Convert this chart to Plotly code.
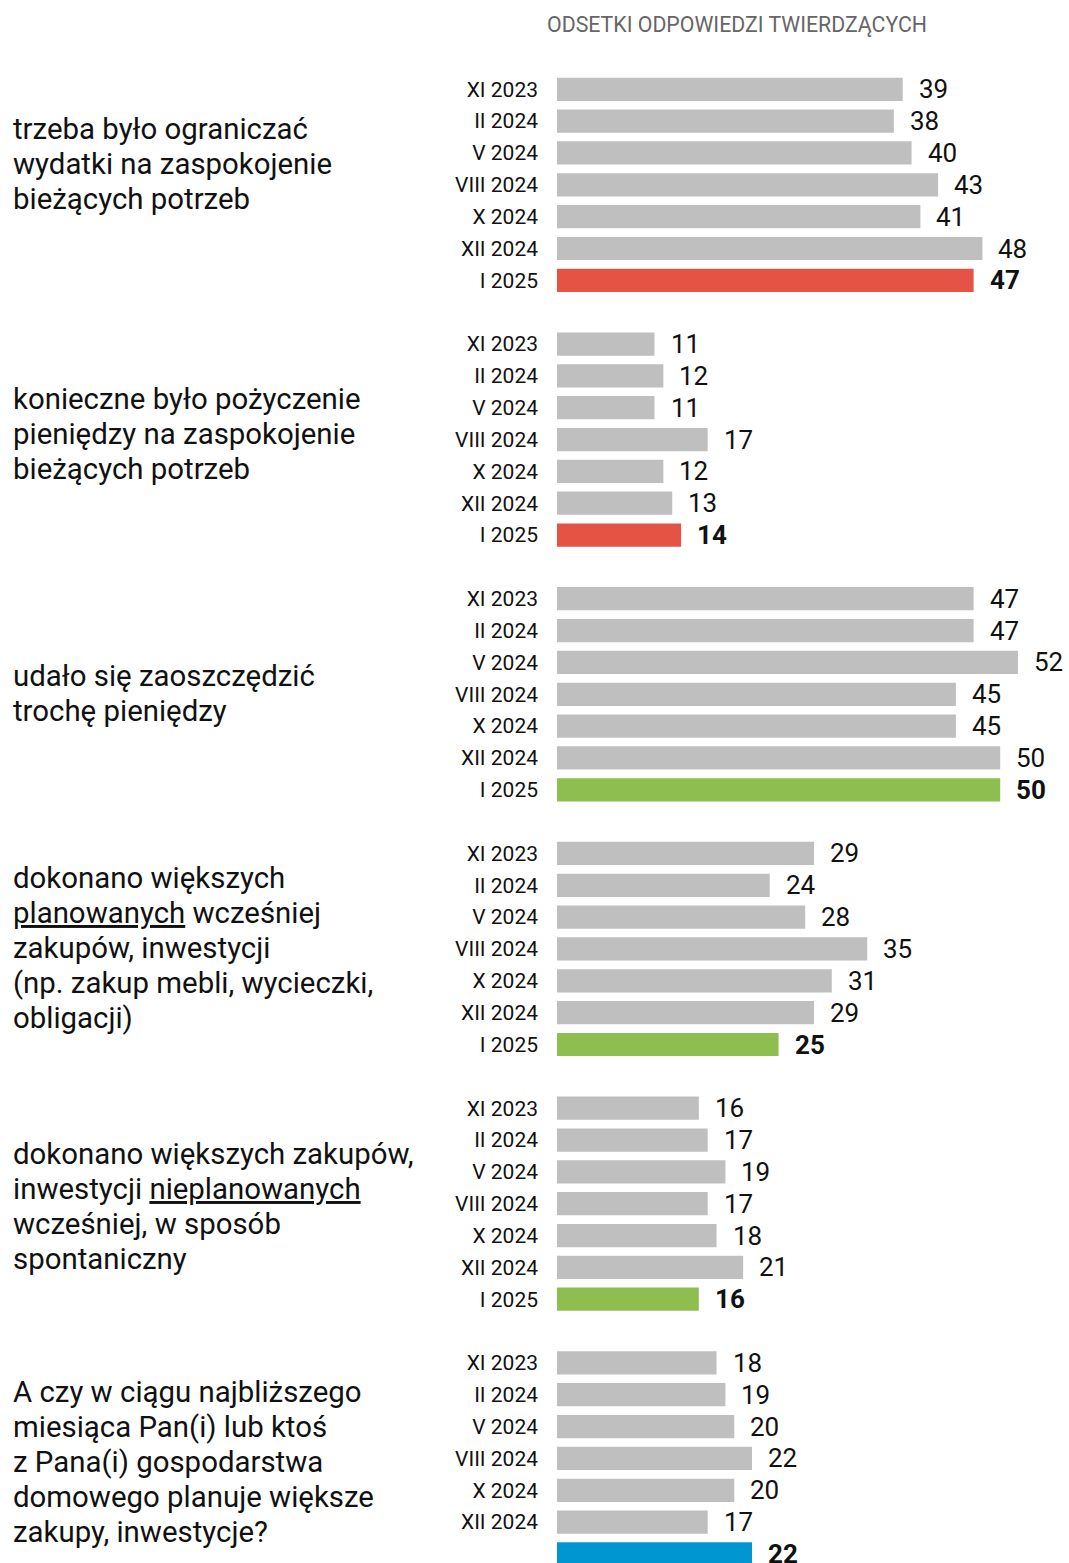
import plotly.graph_objects as go

periods = ["XI 2023", "II 2024", "V 2024", "VIII 2024", "X 2024", "XII 2024", "I 2025"]

questions = [
    ["trzeba było ograniczać", "wydatki na zaspokojenie", "bieżących potrzeb"],
    ["konieczne było pożyczenie", "pieniędzy na zaspokojenie", "bieżących potrzeb"],
    ["udało się zaoszczędzić", "trochę pieniędzy"],
    ["dokonano większych", "<u>planowanych</u> wcześniej", "zakupów, inwestycji",
     "(np. zakup mebli, wycieczki,", "obligacji)"],
    ["dokonano większych zakupów,", "inwestycji <u>nieplanowanych</u>",
     "wcześniej, w sposób", "spontaniczny"],
    ["A czy w ciągu najbliższego", "miesiąca Pan(i) lub ktoś", "z Pana(i) gospodarstwa",
     "domowego planuje większe", "zakupy, inwestycje?"],
]

values_g1 = [39, 38, 40, 43, 41, 48, 47]
values_g2 = [11, 12, 11, 17, 12, 13, 14]
values_g3 = [47, 47, 52, 45, 45, 50, 50]
values_g4 = [29, 24, 28, 35, 31, 29, 25]
values_g5 = [16, 17, 19, 17, 18, 21, 16]
values_g6 = [18, 19, 20, 22, 20, 17, 22]
groups = [values_g1, values_g2, values_g3, values_g4, values_g5, values_g6]

highlight_colors = ["#e55344", "#e55344", "#8fbe50", "#8fbe50", "#8fbe50", "#0096d2"]
gray = "#bfbfbf"
title_text = "ODSETKI ODPOWIEDZI TWIERDZĄCYCH"

# label block centres (in row units, relative to group start)
label_offsets = [2.35, 2.83, 2.98, 2.97, 3.10, 3.11]

FONT = "Roboto"
ROWS_PER_GROUP = len(periods) + 1
ROW_PX = 31.84
LINE_PX = 35.0

xs, ys, colors, tickvals, ticktext = [], [], [], [], []
annotations = []
for g, vals in enumerate(groups):
    for i, v in enumerate(vals):
        r = g * ROWS_PER_GROUP + i
        xs.append(v)
        ys.append(r)
        last = i == len(vals) - 1
        colors.append(highlight_colors[g] if last else gray)
        tickvals.append(r)
        ticktext.append(periods[i])
        annotations.append(dict(
            x=v, y=r, xref="x", yref="y", xanchor="left", yanchor="middle",
            xshift=14, showarrow=False,
            text=f"<b>{v}</b>" if last else str(v),
            font=dict(family=FONT, size=26, color="#111111"),
        ))
    lines = questions[g]
    n = len(lines)
    for k, line in enumerate(lines):
        yr = g * ROWS_PER_GROUP + label_offsets[g] + (k - (n - 1) / 2) * LINE_PX / ROW_PX
        annotations.append(dict(
            x=-1.0625, y=yr, xref="paper", yref="y", xshift=-2,
            xanchor="left", yanchor="middle", align="left", showarrow=False,
            text=line,
            font=dict(family=FONT, size=29.4, color="#111111"),
        ))

annotations.append(dict(
    x=0.3506, y=-2.05, xref="paper", yref="y", xanchor="center", yanchor="middle",
    showarrow=False, text=title_text,
    font=dict(family=FONT, size=21.3, color="#666666"),
))

fig = go.Figure(go.Bar(
    x=xs, y=ys, orientation="h", width=0.73,
    marker=dict(color=colors, line=dict(width=0)),
    hoverinfo="skip",
))

fig.update_layout(
    width=1069, height=1563,
    margin=dict(l=557, r=0, t=0, b=0),
    paper_bgcolor="white", plot_bgcolor="white",
    showlegend=False,
    annotations=annotations,
    font=dict(family=FONT),
)
fig.update_xaxes(range=[0, 512 / 8.864], visible=False, fixedrange=True)
fig.update_yaxes(
    range=[(1563 - 89.3) / ROW_PX, -89.3 / ROW_PX],
    tickvals=tickvals, ticktext=ticktext,
    tickfont=dict(family=FONT, size=21, color="#111111"),
    showgrid=False, zeroline=False, showline=False, ticks="",
    ticklabelstandoff=18, fixedrange=True,
)

fig.write_html("out.html")
